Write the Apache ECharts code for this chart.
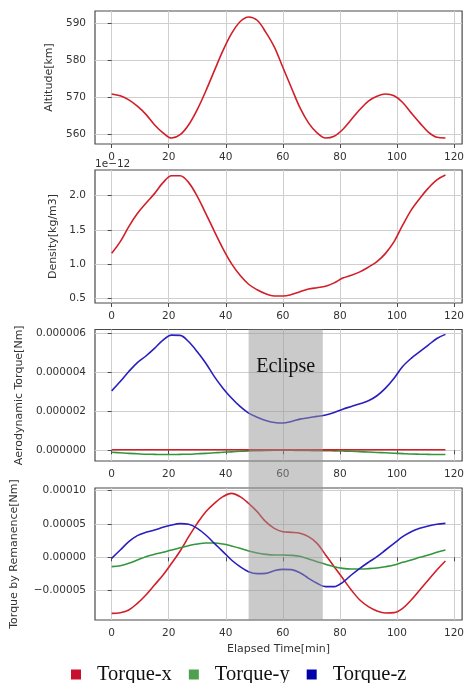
<!DOCTYPE html>
<html><head><meta charset="utf-8">
<script src="https://cdn.jsdelivr.net/npm/echarts@6/dist/echarts.min.js"></script>
<style>html,body{margin:0;padding:0;background:#fff}#c{width:467px;height:683px}</style>
</head><body><div id="c"></div>
<script>
// ---- data ----
const time = [0,3,6,9,12,15,18,21,24,27,30,33,36,39,42,45,48,51,54,57,60,63,66,69,72,75,78,81,84,87,90,93,96,99,102,105,108,111,114,117];
const altitude = [570.8,570.3,569.2,567.5,565.3,562.5,560.3,558.9,559.8,562.5,566.6,571.6,577.1,582.5,587.1,590.3,591.6,590.7,587.5,583.5,578,572.5,567.1,563,560.3,558.9,559.4,561.2,563.9,566.6,568.9,570.2,570.8,570.3,568.5,565.7,563,560.5,559.1,558.9];
// density shown in units of 1e-12 kg/m3 (axis offset text "1e-12")
const density = [1.16,1.33,1.55,1.74,1.89,2.03,2.19,2.29,2.29,2.19,1.99,1.74,1.48,1.23,1.01,0.84,0.71,0.63,0.57,0.54,0.54,0.56,0.60,0.64,0.66,0.68,0.73,0.80,0.84,0.89,0.96,1.04,1.16,1.33,1.57,1.79,1.96,2.11,2.23,2.30];
const aeroX = [3e-8,3e-8,3e-8,3e-8,3e-8,3e-8,3e-8,3e-8,3e-8,3e-8,3e-8,3e-8,3e-8,3e-8,3e-8,3e-8,2e-8,2e-8,2e-8,2e-8,2e-8,2e-8,2e-8,2e-8,2e-8,2e-8,2e-8,3e-8,3e-8,3e-8,3e-8,3e-8,3e-8,3e-8,3e-8,3e-8,3e-8,3e-8,3e-8,3e-8];
const aeroY = [-1.0e-7,-1.3e-7,-1.6e-7,-1.8e-7,-2.0e-7,-2.1e-7,-2.2e-7,-2.2e-7,-2.1e-7,-2.0e-7,-1.8e-7,-1.6e-7,-1.3e-7,-1.0e-7,-0.8e-7,-0.5e-7,-0.3e-7,-0.2e-7,-0.1e-7,0,0,0,-0.1e-7,-0.1e-7,-0.2e-7,-0.2e-7,-0.3e-7,-0.4e-7,-0.5e-7,-0.7e-7,-0.9e-7,-1.1e-7,-1.3e-7,-1.5e-7,-1.7e-7,-1.9e-7,-2.0e-7,-2.1e-7,-2.2e-7,-2.2e-7];
const aeroZ = [3.05e-6,3.53e-6,4.04e-6,4.50e-6,4.84e-6,5.23e-6,5.66e-6,5.91e-6,5.90e-6,5.57e-6,5.06e-6,4.47e-6,3.78e-6,3.19e-6,2.68e-6,2.25e-6,1.91e-6,1.70e-6,1.53e-6,1.43e-6,1.40e-6,1.48e-6,1.60e-6,1.67e-6,1.74e-6,1.81e-6,1.94e-6,2.11e-6,2.25e-6,2.39e-6,2.54e-6,2.80e-6,3.19e-6,3.70e-6,4.30e-6,4.72e-6,5.06e-6,5.40e-6,5.74e-6,5.95e-6];
const remX = [-8.4e-5,-8.3e-5,-7.9e-5,-6.9e-5,-5.65e-5,-4.15e-5,-2.65e-5,-0.9e-5,0.95e-5,3.1e-5,5.1e-5,6.85e-5,8.1e-5,9.1e-5,9.6e-5,9.1e-5,8.1e-5,6.85e-5,5.35e-5,4.35e-5,3.85e-5,3.75e-5,3.6e-5,3.1e-5,2.1e-5,0.35e-5,-1.4e-5,-3.15e-5,-4.9e-5,-6.4e-5,-7.4e-5,-8.05e-5,-8.35e-5,-8.3e-5,-7.65e-5,-6.4e-5,-4.9e-5,-3.4e-5,-1.9e-5,-0.55e-5];
const remY = [-1.4e-5,-1.25e-5,-0.9e-5,-0.4e-5,0.1e-5,0.45e-5,0.75e-5,1.1e-5,1.45e-5,1.75e-5,2.0e-5,2.15e-5,2.15e-5,2.0e-5,1.7e-5,1.35e-5,0.95e-5,0.65e-5,0.45e-5,0.35e-5,0.35e-5,0.3e-5,0.15e-5,-0.25e-5,-0.65e-5,-1.05e-5,-1.4e-5,-1.65e-5,-1.75e-5,-1.75e-5,-1.7e-5,-1.6e-5,-1.4e-5,-1.15e-5,-0.75e-5,-0.4e-5,0,0.35e-5,0.75e-5,1.1e-5];
const remZ = [-0.15e-5,1.1e-5,2.35e-5,3.25e-5,3.75e-5,4.1e-5,4.5e-5,4.85e-5,5.05e-5,4.95e-5,4.35e-5,3.35e-5,2.1e-5,0.85e-5,-0.4e-5,-1.4e-5,-2.15e-5,-2.45e-5,-2.4e-5,-2.0e-5,-1.8e-5,-1.85e-5,-2.3e-5,-3.15e-5,-3.9e-5,-4.4e-5,-4.4e-5,-3.75e-5,-2.65e-5,-1.65e-5,-0.75e-5,0.1e-5,1.1e-5,2.1e-5,3.1e-5,3.85e-5,4.35e-5,4.7e-5,4.95e-5,5.1e-5];

const xTicks = [0,20,40,60,80,100,120];
const altTicks = [560,570,580,590];
const densTicks = [0.5,1.0,1.5,2.0];
const aeroTicks = [0,0.000002,0.000004,0.000006];
const remTicks = [-0.00005,0,0.00005,0.0001];
const eclipse = [48,74];
const torqueNames = ['Torque-x','Torque-y','Torque-z'];
const yNames = ['Altitude[km]','Density[kg/m3]','Aerodynamic Torque[Nm]','Torque by Remanence[Nm]'];
const xName = 'Elapsed Time[min]';

// ---- styling ----
const lineColors = ['#d21e28','#32963c','#2a1ebe'];
const legendColors = ['#c8102e','#4ea04e','#0000aa'];
const font = 'DejaVu Sans';
const xRange = [-5.85, 122.85];
const yRanges = [[557.3,593.2],[0.437,2.374],[-0.55e-6,6.2e-6],[-0.94e-4,1.04e-4]];
const grids = [
  {left:95,right:2,top:11,height:133},
  {left:95,right:2,top:170,height:133},
  {left:95,right:2,top:329.5,height:131.5},
  {left:95,right:2,top:488,height:132}
].map(g=>Object.assign({show:true,borderColor:'#4a4a4a',borderWidth:1.2,backgroundColor:'transparent'},g));
const yTicksAll = [altTicks,densTicks,aeroTicks,remTicks];
const yFmt = [
  v=>String(Math.round(v)),
  v=>v.toFixed(1),
  v=>v.toFixed(6),
  v=>v.toFixed(5).replace('-','\u2212')
];
const nameGaps = [37,32,70,75];

const xAxes = grids.map((g,i)=>({
  type:'value', gridIndex:i, min:xRange[0], max:xRange[1],
  name: i===3 ? xName : '', nameLocation:'middle', nameGap:24,
  nameTextStyle:{fontFamily:font,fontSize:11,color:'#333'},
  axisLine:{show:false},
  axisTick:{show:true,inside:false,length:4,customValues:xTicks,lineStyle:{color:'#4a4a4a'}},
  axisLabel:{customValues:xTicks,fontFamily:font,fontSize:10.5,color:'#333',margin:8,formatter:v=>String(v)},
  splitLine:{show:true,lineStyle:{color:'#cfcfcf',width:1}}
}));
const yAxes = grids.map((g,i)=>({
  type:'value', gridIndex:i, min:yRanges[i][0], max:yRanges[i][1],
  name:yNames[i], nameLocation:'middle', nameGap:nameGaps[i], nameRotate:90,
  nameTextStyle:{fontFamily:font,fontSize:11,color:'#333'},
  axisLine:{show:false},
  axisTick:{show:true,inside:false,length:4,customValues:yTicksAll[i],lineStyle:{color:'#4a4a4a'}},
  axisLabel:{customValues:yTicksAll[i],fontFamily:font,fontSize:10.5,color:'#333',margin:9,formatter:yFmt[i]},
  splitLine:{show:true,lineStyle:{color:'#cfcfcf',width:1}}
}));

function pairs(ys){ return time.map((t,k)=>[t,ys[k]]); }
function line(name,ys,idx,color){
  return {name, type:'line', xAxisIndex:idx, yAxisIndex:idx, data:pairs(ys),
    showSymbol:false, smooth:0.35, lineStyle:{color,width:1.6}, itemStyle:{color}, z:3};
}
const series = [
  line('Altitude',altitude,0,lineColors[0]),
  line('Density',density,1,lineColors[0]),
  line(torqueNames[1],aeroY,2,lineColors[1]),
  line(torqueNames[0],aeroX,2,lineColors[0]),
  line(torqueNames[2],aeroZ,2,lineColors[2]),
  line(torqueNames[0],remX,3,lineColors[0]),
  line(torqueNames[1],remY,3,lineColors[1]),
  line(torqueNames[2],remZ,3,lineColors[2])
];

const option = {
  animation:false,
  backgroundColor:'#fff',
  grid:grids, xAxis:xAxes, yAxis:yAxes, series,
  legend:{
    data: torqueNames.map((n,i)=>({name:n,icon:'rect',itemStyle:{color:legendColors[i]}})),
    left:71, top:664, padding:0, itemWidth:10, itemHeight:10, itemGap:17,
    textStyle:{fontFamily:'Liberation Serif',fontSize:20.5,color:'#111',padding:[0,0,0,11],lineHeight:20}
  }
};
const chart = echarts.init(document.getElementById('c'),null,{renderer:'canvas'});
chart.setOption(option);

const pTop = chart.convertToPixel({xAxisIndex:2,yAxisIndex:2},[eclipse[0],yRanges[2][1]]);
const pBot = chart.convertToPixel({xAxisIndex:3,yAxisIndex:3},[eclipse[1],yRanges[3][0]]);
const pTxt = chart.convertToPixel({xAxisIndex:2,yAxisIndex:2},[(eclipse[0]+eclipse[1])/2,4.27e-6]);
chart.setOption({graphic:[
  {type:'rect',z:100,silent:true,shape:{x:pTop[0],y:pTop[1],width:pBot[0]-pTop[0],height:pBot[1]-pTop[1]},style:{fill:'rgba(150,150,150,0.5)'}},
  {type:'text',z:101,x:pTxt[0],y:pTxt[1],style:{text:'Eclipse',fontFamily:'Liberation Serif',fontSize:20,fill:'#111',align:'center',verticalAlign:'middle'}},
  {type:'text',z:101,x:95,y:164,style:{text:'1e\u221212',fontFamily:font,fontSize:10.5,fill:'#333',align:'left',verticalAlign:'middle'}}
]});
</script></body></html>
